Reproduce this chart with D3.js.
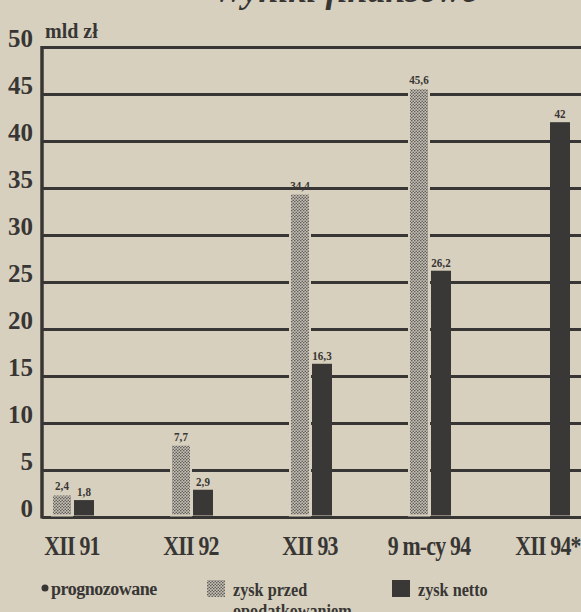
<!DOCTYPE html>
<html>
<head>
<meta charset="utf-8">
<script src="https://cdn.jsdelivr.net/npm/d3@7"></script>
<style>
  body { margin: 0; background: #d7d0be; }
  svg { display: block; }
  text { font-family: "Liberation Serif", "DejaVu Serif", serif; font-weight: bold; fill: #383634; }
</style>
</head>
<body>
<svg id="chart" width="581" height="612"></svg>
<script>
// data
const categories = ['XII 91', 'XII 92', 'XII 93', '9 m-cy 94', 'XII 94*'];
const przed = [2.4, 7.7, 34.4, 45.6, null];   // zysk przed opodatkowaniem
const netto = [1.8, 2.9, 16.3, 26.2, 42];     // zysk netto
const yTicks = [0, 5, 10, 15, 20, 25, 30, 35, 40, 45, 50];

const ink = '#383634';
const paper = '#d7d0be';
const width = 581;

const svg = d3.select('#chart');

// dotted fill for the light bars
const pat = svg.append('defs').append('pattern')
    .attr('id', 'dots')
    .attr('width', 3)
    .attr('height', 3)
    .attr('patternUnits', 'userSpaceOnUse');
pat.append('rect').attr('width', 3).attr('height', 3).attr('fill', '#c6c1b6');
pat.append('circle').attr('cx', 0.75).attr('cy', 0.75).attr('r', 0.8).attr('fill', '#5a5753');
pat.append('circle').attr('cx', 2.25).attr('cy', 2.25).attr('r', 0.8).attr('fill', '#5a5753');

var y = d3.scaleLinear().domain([0, 50]).range([517, 47]);
var x = d3.scalePoint().domain(categories).range([73, 549]);
const barW = 20;

// title, cut off by the top edge
svg.append('text')
    .attr('x', 345)
    .attr('y', 2)
    .attr('text-anchor', 'middle')
    .style('font-size', '36px')
    .style('font-style', 'italic')
    .text('Wyniki finansowe');

// y axis with grid lines
var yAxis = d3.axisLeft(y)
    .tickValues(yTicks)
    .tickSize(-(width - 42))
    .tickPadding(9);

var gy = svg.append('g')
    .attr('transform', 'translate(42,0)')
    .call(yAxis);
gy.select('.domain').remove();
gy.selectAll('.tick line')
    .attr('stroke', ink)
    .attr('stroke-width', 3);
gy.selectAll('.tick text')
    .attr('dy', '0')
    .attr('y', -1)
    .attr('fill', ink)
    .style('font-size', '25px')
    .style('font-family', '"Liberation Serif", serif')
    .style('font-weight', 'bold');

// vertical axis line
svg.append('line')
    .attr('x1', 42).attr('x2', 42)
    .attr('y1', y(50) - 1).attr('y2', y(0) + 1.5)
    .attr('stroke', ink)
    .attr('stroke-width', 3.5);

svg.append('text')
    .attr('x', 45)
    .attr('y', 38)
    .style('font-size', '20px')
    .text('mld zł');

// bars
var groups = svg.append('g').selectAll('g')
    .data(categories)
    .join('g');

groups.filter((d, i) => przed[i] != null)
    .append('rect')
    .attr('x', d => x(d) - barW - 1)
    .attr('y', d => y(przed[categories.indexOf(d)]))
    .attr('width', barW)
    .attr('height', d => y(0) - y(przed[categories.indexOf(d)]) - 1.5)
    .attr('fill', 'url(#dots)')
    .attr('stroke', paper)
    .attr('stroke-width', 2);

groups.append('rect')
    .attr('x', d => x(d) + 1)
    .attr('y', d => y(netto[categories.indexOf(d)]))
    .attr('width', barW)
    .attr('height', d => y(0) - y(netto[categories.indexOf(d)]) - 1.5)
    .attr('fill', '#3a3836');

// value labels
const fmt = v => String(v).replace('.', ',');

groups.filter((d, i) => przed[i] != null)
    .append('text')
    .attr('transform', d => `translate(${x(d) - barW / 2 - 1},${y(przed[categories.indexOf(d)]) - 4}) scale(0.85,1)`)
    .attr('text-anchor', 'middle')
    .style('font-size', '13px')
    .text(d => fmt(przed[categories.indexOf(d)]));

groups.append('text')
    .attr('transform', d => `translate(${x(d) + barW / 2 + 1},${y(netto[categories.indexOf(d)]) - 4}) scale(0.85,1)`)
    .attr('text-anchor', 'middle')
    .style('font-size', '13px')
    .text(d => fmt(netto[categories.indexOf(d)]));

// category labels
groups.append('text')
    .attr('transform', d => `translate(${x(d) - 1},555) scale(0.78,1)`)
    .attr('text-anchor', 'middle')
    .style('font-size', '28px')
    .style('letter-spacing', '-1px')
    .text(d => d);

// legend
var legend = svg.append('g');
legend.append('circle').attr('cx', 45).attr('cy', 588).attr('r', 3.5).attr('fill', ink);
legend.append('text').attr('x', 51).attr('y', 595).style('font-size', '18px').style('letter-spacing', '-0.5px').text('prognozowane');

legend.append('rect').attr('x', 207).attr('y', 580).attr('width', 18).attr('height', 17).attr('fill', 'url(#dots)');
legend.append('text').attr('transform', 'translate(233,596) scale(0.9,1)').style('font-size', '18px').text('zysk przed');
legend.append('text').attr('transform', 'translate(233,617) scale(0.9,1)').style('font-size', '18px').text('opodatkowaniem');

legend.append('rect').attr('x', 392).attr('y', 580).attr('width', 18).attr('height', 17).attr('fill', '#3a3836');
legend.append('text').attr('transform', 'translate(418,596) scale(0.9,1)').style('font-size', '18px').text('zysk netto');
</script>
</body>
</html>
